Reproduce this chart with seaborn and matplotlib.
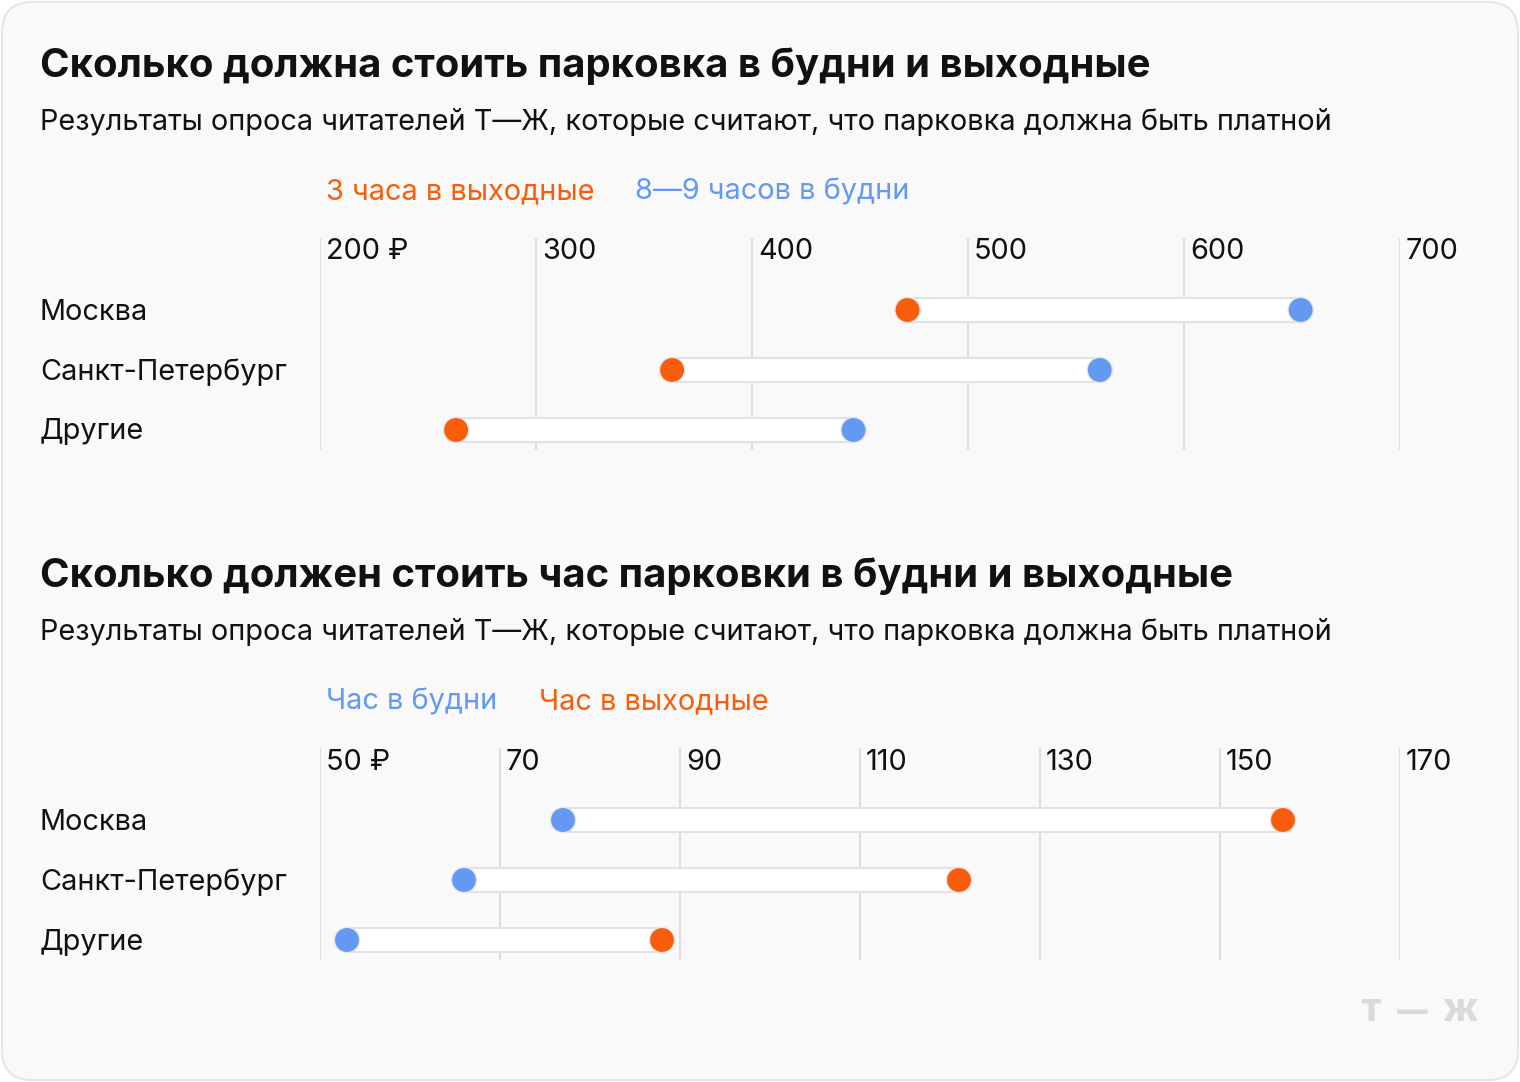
import numpy as np
import pandas as pd
import matplotlib.pyplot as plt
import matplotlib.transforms as mtransforms
import seaborn as sns
from matplotlib.patches import FancyBboxPatch

cities = ["Москва", "Санкт-Петербург", "Другие"]

# total price, rubles
weekend_3h = [472, 363, 263]
weekday_9h = [654, 561, 447]
ticks_total = [200, 300, 400, 500, 600, 700]

# price per hour, rubles
hour_weekday = [77, 66, 53]
hour_weekend = [157, 121, 88]
ticks_hour = [50, 70, 90, 110, 130, 150, 170]

orange = "#F75D0A"
blue = "#6399F2"
ink = "#111111"
W, H = 1520, 1082
fs = 20.8

sns.set_theme(style="white")
plt.rcParams["font.family"] = ["Inter", "DejaVu Sans"]

fig = plt.figure(figsize=(W / 100, H / 100), dpi=100)
fig.patch.set_facecolor("white")
bg = FancyBboxPatch((2 / W, 2 / H), (W - 4) / W, (H - 4) / H,
                    boxstyle="round,pad=0,rounding_size=0.02",
                    transform=fig.transFigure, facecolor="#f9f9f9",
                    edgecolor="#e6e6e6", linewidth=1.5, zorder=-10,
                    mutation_aspect=W / H)
fig.patches.append(bg)


def px(x, y):
    return x / W, 1 - y / H


def dumbbell(top, left_vals, right_vals, left_col, right_col, ticks, first_label):
    ax = fig.add_axes([320 / W, 1 - (top + 212) / H, 1080 / W, 212 / H])
    ax.set_facecolor("none")
    ypos = np.arange(len(cities))
    lo = np.minimum(left_vals, right_vals)
    hi = np.maximum(left_vals, right_vals)
    ax.barh(ypos, hi - lo, left=lo, height=0.4, color="white",
            edgecolor="#e2e2e2", linewidth=1.5, zorder=2)
    df = pd.DataFrame({"y": np.concatenate([ypos, ypos]),
                       "x": np.concatenate([left_vals, right_vals]),
                       "s": ["a"] * len(cities) + ["b"] * len(cities)})
    sns.scatterplot(data=df, x="x", y="y", hue="s",
                    palette={"a": left_col, "b": right_col}, s=330,
                    edgecolor="#e6e6e6", linewidth=1, legend=False,
                    zorder=3, ax=ax)
    ax.set_xlim(ticks[0], ticks[-1])
    ax.set_ylim(2 + 20 / 60, -1.2)
    ax.set_xticks(ticks)
    ax.set_yticks([])
    ax.tick_params(axis="x", length=0, labelbottom=False)
    ax.grid(axis="x", color="#dedede", linewidth=1.5, zorder=0)
    ax.set_axisbelow(True)
    ax.set_xlabel("")
    ax.set_ylabel("")
    for sp in ax.spines.values():
        sp.set_visible(False)

    # tick labels sit just right of each grid line, at the top
    shift = ax.transData + mtransforms.ScaledTranslation(6 / 100, -2 / 100, fig.dpi_scale_trans)
    for i, t in enumerate(ticks):
        lab = first_label if i == 0 else str(t)
        ax.text(t, -1.0, lab, ha="left", va="center", fontsize=fs,
                color=ink, transform=shift)
    for i, c in enumerate(cities):
        fig.text(*px(40, top + 74 + 60 * i), c, ha="left", va="center",
                 fontsize=fs, color=ink)
    return ax


title1 = "Сколько должна стоить парковка в будни и выходные"
title2 = "Сколько должен стоить час парковки в будни и выходные"
subtitle = "Результаты опроса читателей Т—Ж, которые считают, что парковка должна быть платной"

fig.text(*px(40, 66), title1, fontsize=28.8, fontweight="bold", va="center", color=ink)
fig.text(*px(40, 122), subtitle, fontsize=fs, va="center", color=ink)
fig.text(*px(326, 192), "3 часа в выходные", fontsize=fs, va="center", color=orange)
fig.text(*px(635, 192), "8—9 часов в будни", fontsize=fs, va="center", color=blue)
dumbbell(238, np.array(weekend_3h), np.array(weekday_9h), orange, blue, ticks_total, "200 ₽")

fig.text(*px(40, 576), title2, fontsize=28.8, fontweight="bold", va="center", color=ink)
fig.text(*px(40, 632), subtitle, fontsize=fs, va="center", color=ink)
fig.text(*px(326, 702), "Час в будни", fontsize=fs, va="center", color=blue)
fig.text(*px(539, 702), "Час в выходные", fontsize=fs, va="center", color=orange)
dumbbell(748, np.array(hour_weekday), np.array(hour_weekend), blue, orange, ticks_hour, "50 ₽")

# logo
logo_col = "#dadada"
fig.text(*px(1360, 1013), "Т", fontsize=22, fontweight="black", ha="left", va="center", color=logo_col)
fig.text(*px(1412, 1013), "—", fontsize=22, fontweight="black", ha="center", va="center", color=logo_col)
fig.text(*px(1478, 1013), "Ж", fontsize=22, fontweight="black", ha="right", va="center", color=logo_col)

fig.savefig("out.png", dpi=100, facecolor=fig.get_facecolor())
